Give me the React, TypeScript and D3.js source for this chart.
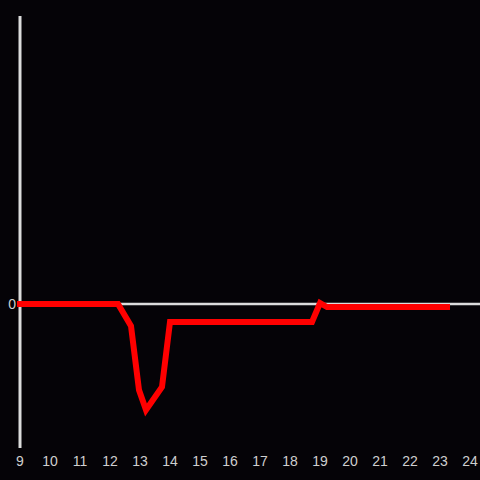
import React from "react";
import * as d3 from "d3";

const hours = [9, 12.267, 12.7, 12.967, 13.2, 13.733, 14.0, 18.733, 19.0, 19.233, 23.233];
const values = [0, 0, -0.22, -0.86, -1.06, -0.83, -0.18, -0.18, 0.01, -0.03, -0.03];
const xTicks = [9, 10, 11, 12, 13, 14, 15, 16, 17, 18, 19, 20, 21, 22, 23, 24];
const yTicks = [0];

export default function App() {
  const W = 480, H = 480;
  const x = d3.scaleLinear().domain([9, 24]).range([20, 470]);
  const y = d3.scaleLinear().domain([-1.44, 2.88]).range([448, 16]);
  const pts: [number, number][] = hours.map((h, i) => [h, values[i]]);
  const line = d3.line<[number, number]>().x(d => x(d[0])).y(d => y(d[1]));
  return (
    <svg width={W} height={H} style={{ position: "absolute", left: 0, top: 0, background: "#050307" }}>
      <rect x={0} y={0} width={W} height={H} fill="#050307" />
      <line x1={x(9)} x2={480} y1={y(0)} y2={y(0)} stroke="#dcdcdc" strokeWidth={2.6} />
      <line x1={x(9)} x2={x(9)} y1={16} y2={448} stroke="#dcdcdc" strokeWidth={3} />
      <path d={line(pts) || ""} fill="none" stroke="#ff0000" strokeWidth={6} strokeLinecap="square" strokeLinejoin="miter" />
      {xTicks.map(t => (
        <text key={t} x={x(t)} y={466} textAnchor="middle" fill="#cfcfcf" fontSize={14} fontFamily="Liberation Sans, Arial, sans-serif">{t}</text>
      ))}
      {yTicks.map(t => (
        <text key={t} x={16} y={y(t) + 5} textAnchor="end" fill="#cfcfcf" fontSize={14} fontFamily="Liberation Sans, Arial, sans-serif">{t}</text>
      ))}
    </svg>
  );
}
